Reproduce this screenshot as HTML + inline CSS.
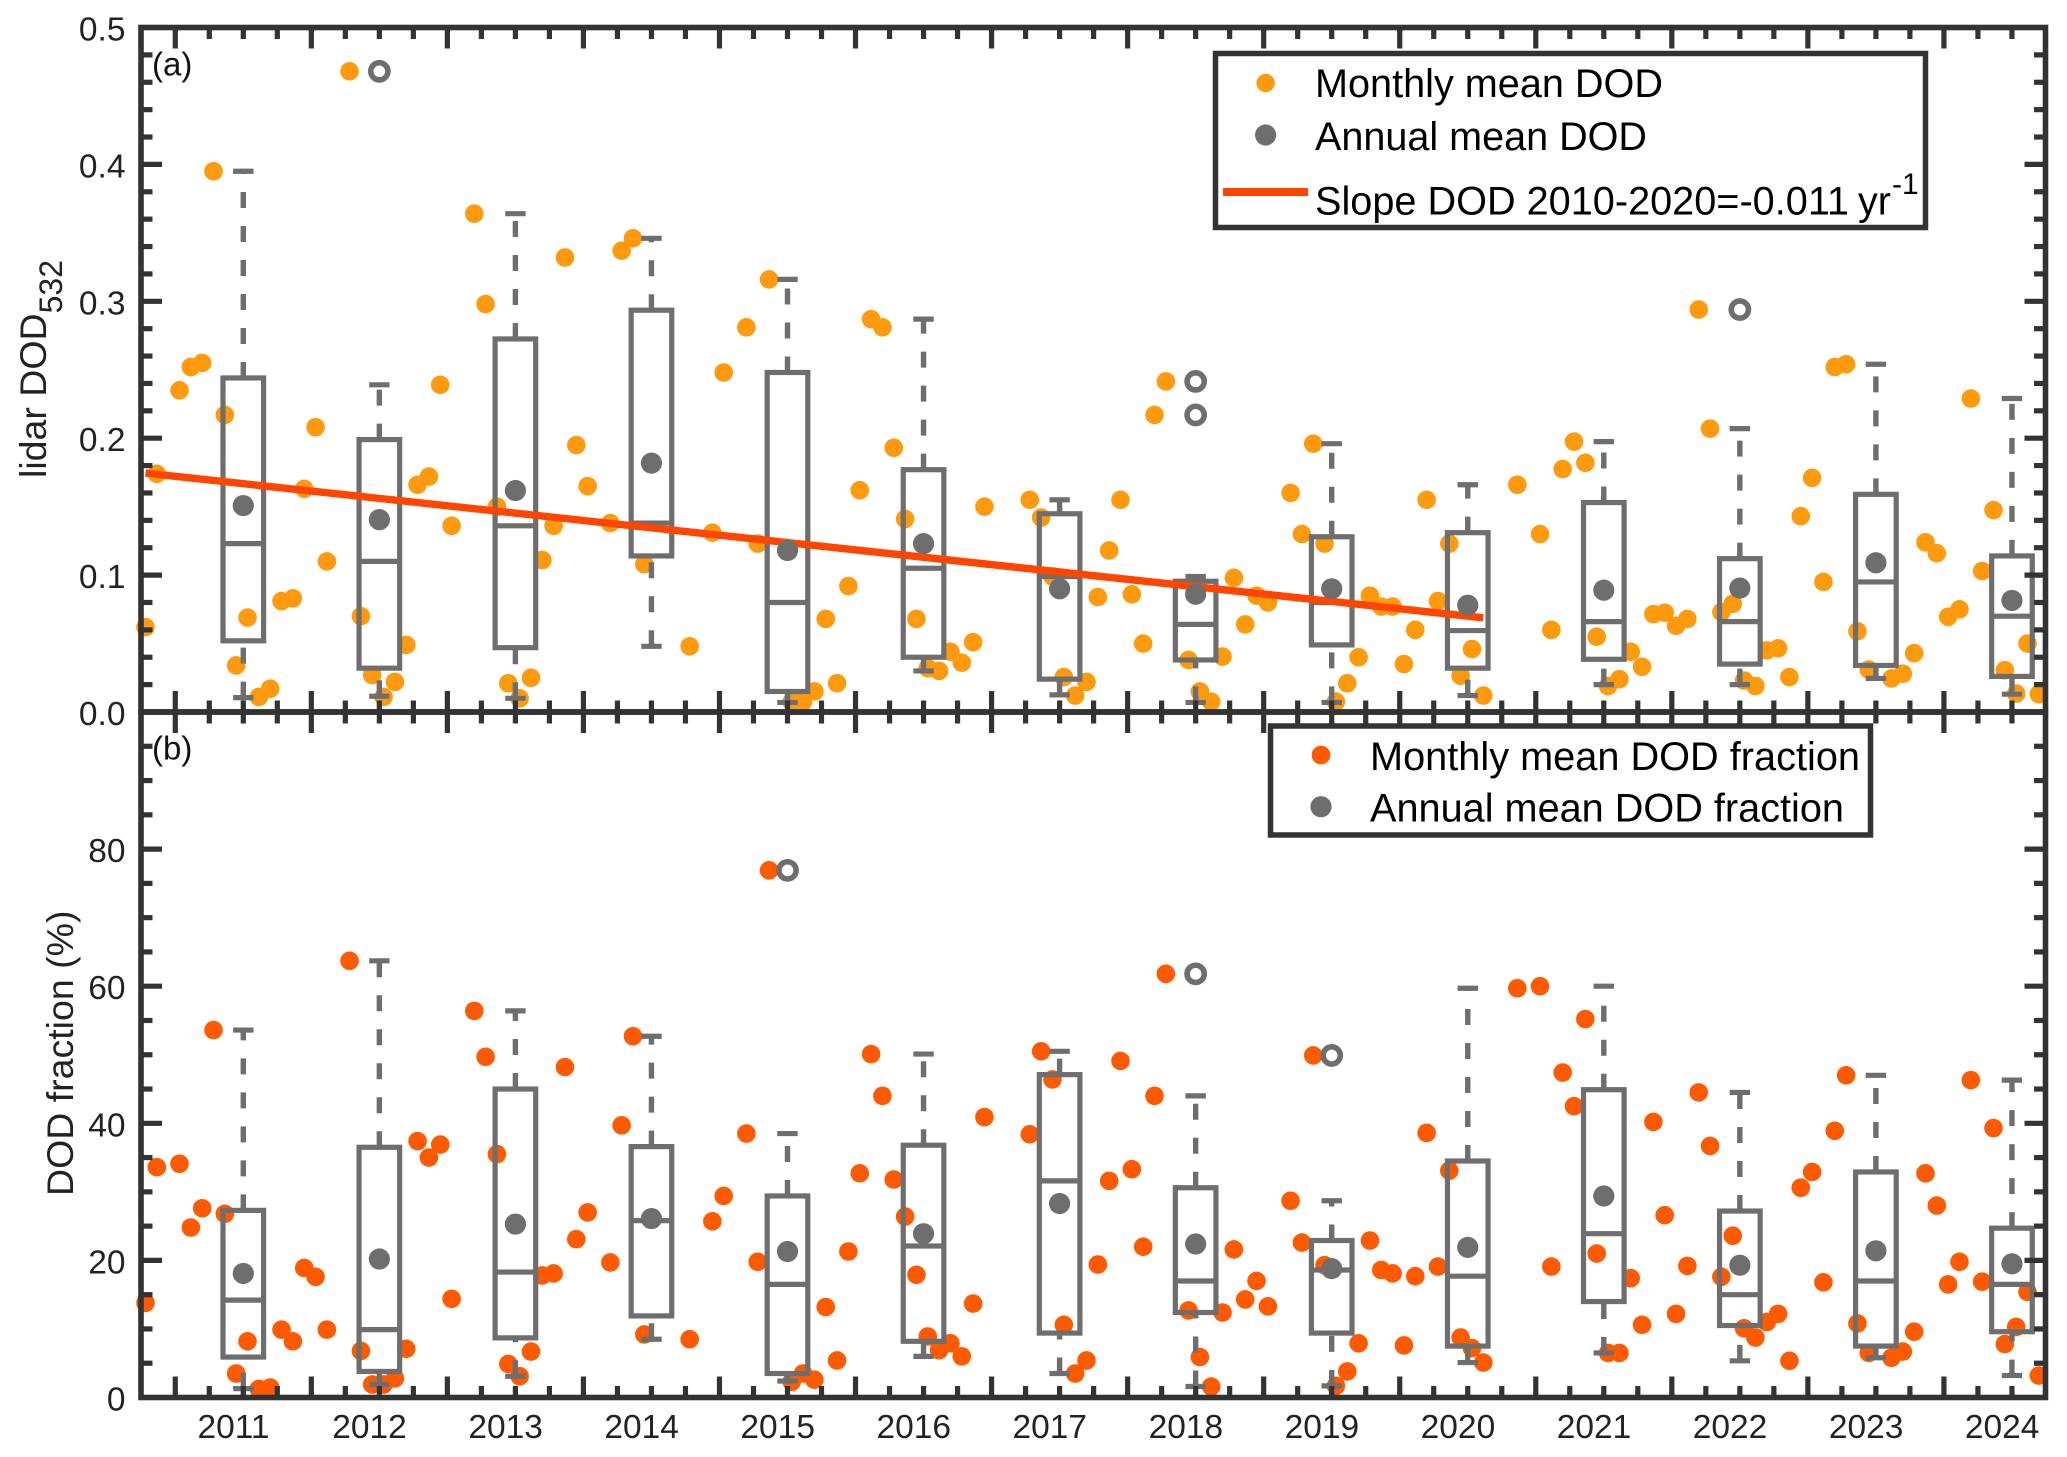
<!DOCTYPE html>
<html lang="en">
<head>
<meta charset="utf-8">
<title>Lidar DOD and DOD fraction</title>
<style>
html,body{margin:0;padding:0;background:#fff;}
svg{display:block;font-family:"Liberation Sans",Arial,sans-serif;}
</style>
</head>
<body>
<svg id="chart" xmlns="http://www.w3.org/2000/svg" width="2067" height="1457" viewBox="0 0 2067 1457">
  <rect x="0" y="0" width="2067" height="1457" fill="#fff"/>
  <g id="panelA"></g>
  <g id="panelB"></g>

  <text transform="translate(46,478) rotate(-90)" font-size="37.5" fill="#222">lidar DOD<tspan dy="16" font-size="32">532</tspan></text>
  <text transform="translate(73,1196) rotate(-90)" font-size="37.5" fill="#222">DOD fraction (%)</text>
  <text x="152" y="75.5" font-size="33" fill="#111">(a)</text>
  <text x="152" y="759.5" font-size="33" fill="#111">(b)</text>

  <g>
    <rect x="1215.5" y="53.5" width="710" height="174" fill="#fff" stroke="#333" stroke-width="5.5"/>
    <circle cx="1265.6" cy="83" r="9.2" fill="#FF9A0E"/>
    <text x="1315" y="97" font-size="39.5" textLength="348" lengthAdjust="spacingAndGlyphs" fill="#000">Monthly mean DOD</text>
    <circle cx="1265.6" cy="135" r="10.6" fill="#6E6E6E"/>
    <text x="1315" y="150" font-size="39.5" textLength="332" lengthAdjust="spacingAndGlyphs" fill="#000">Annual mean DOD</text>
    <line x1="1223" x2="1308" y1="192" y2="192" stroke="#FF4500" stroke-width="8"/>
    <text x="1315" y="214.5" font-size="39.5" textLength="534" lengthAdjust="spacingAndGlyphs" fill="#000">Slope DOD 2010-2020=-0.011</text>
    <text x="1858" y="214.5" font-size="39.5" fill="#000">yr</text>
    <text x="1892" y="194" font-size="30" fill="#000">-1</text>
  </g>

  <g>
    <rect x="1270.5" y="726" width="600" height="109" fill="#fff" stroke="#333" stroke-width="5.5"/>
    <circle cx="1321" cy="755" r="9.4" fill="#FF5A00"/>
    <text x="1370" y="770" font-size="39.5" textLength="490" lengthAdjust="spacingAndGlyphs" fill="#000">Monthly mean DOD fraction</text>
    <circle cx="1321" cy="806.7" r="10.6" fill="#6E6E6E"/>
    <text x="1370" y="821.5" font-size="39.5" textLength="474" lengthAdjust="spacingAndGlyphs" fill="#000">Annual mean DOD fraction</text>
  </g>
</svg>
<script>
const years = [2011,2012,2013,2014,2015,2016,2017,2018,2019,2020,2021,2022,2023,2024];
const dodTickLabels = ["0.0","0.1","0.2","0.3","0.4","0.5"];
const fractionTickLabels = ["0","20","40","60","80"];

const monthlyDod = [
.062,.174,null,.235,.252,.255,.395,.217,.034,.069,.011,.017,
.081,.083,.163,.208,.110,null,.468,.070,.027,.011,.022,.049,
.166,.172,.239,.136,null,.364,.298,.150,.021,.010,.025,.111,
.136,.332,.195,.165,null,.138,.337,.346,.108,null,null,null,
.048,null,.131,.248,null,.281,.123,.316,null,.0075,.0075,.015,
.068,.021,.092,.162,.287,.281,.193,.141,.068,.032,.030,.044,
.036,.051,.150,null,null,null,.155,.142,.099,.0255,.012,.022,
.084,.118,.155,.086,.050,.217,.2415,null,.038,.015,.0075,.0405,
.098,.064,.085,.080,null,.160,.130,.196,.123,.0075,.021,.040,
.085,.077,.077,.035,.060,.155,.081,.123,.0265,.046,.012,null,
null,.166,null,.130,.060,.1775,.1975,.182,.055,.019,.024,.044,
.033,.0715,.0725,.063,.068,.294,.207,.073,.079,.023,.019,.045,
.0465,.0255,.143,.171,.095,.252,.254,.059,.031,null,.0245,.028,
.043,.124,.116,.0695,.075,.229,.103,.1475,.0305,.0135,.050,.013
];
const monthlyFraction = [
13.8,33.6,null,34.1,24.8,27.6,53.6,26.8,3.5,8.2,1.25,1.45,
9.9,8.2,18.9,17.6,9.9,null,63.7,6.8,1.9,1.9,2.8,7.1,
37.4,35,36.9,14.4,null,56.4,49.7,35.5,4.9,3.1,6.7,17.8,
18.1,48.2,23.1,27,null,19.7,39.7,52.7,9.2,null,null,null,
8.5,null,25.7,29.4,null,38.5,19.8,76.9,null,2.3,3.5,2.6,
13.2,5.4,21.3,32.7,50.1,44,31.8,26.4,17.9,8.9,6.9,7.9,
6,13.7,40.9,null,null,null,38.4,50.5,46.4,10.6,3.5,5.4,
19.4,31.6,49.1,33.3,22,44,61.8,null,12.7,5.9,1.6,12.4,
21.6,14.3,17,13.3,null,28.7,22.6,49.9,19.3,1.7,3.8,7.9,
22.9,18.6,18.1,7.6,17.7,38.6,19.1,33.1,8.75,7.2,5.1,null,
null,59.7,null,60,19.1,47.4,42.5,55.2,21,6.5,6.5,17.4,
10.6,40.2,26.6,12.2,19.2,44.5,36.7,17.6,23.6,10.1,8.75,11,
12.2,5.35,30.6,32.9,16.8,38.9,47,10.8,6.5,null,5.8,6.7,
9.6,32.7,28,16.5,19.8,46.3,16.9,39.3,7.8,10.3,15.4,3.2
];

const dodWhiskerHigh = [.395,.239,.364,.346,.316,.287,.155,.099,.196,.166,.1975,.207,.254,.229];
const dodQ3 = [.244,.199,.2725,.2935,.248,.177,.1448,.0955,.128,.131,.153,.112,.159,.114];
const dodMedian = [.123,.110,.136,.138,.080,.105,.099,.064,.080,.0595,.066,.066,.095,.070];
const dodQ1 = [.052,.032,.047,.114,.015,.040,.024,.038,.049,.032,.0385,.035,.034,.026];
const dodWhiskerLow = [.0105,.0115,.010,.048,.007,.030,.0125,.007,.007,.012,.020,.020,.0245,.013];
const dodAnnualMean = [.1508,.1405,.1618,.1818,.118,.123,.090,.086,.090,.078,.089,.0905,.109,.0815];
const dodOutlierYears = [2012,2018,2018,2022];
const dodOutlierValues = [.468,.2415,.217,.294];

const fractionWhiskerHigh = [53.6,63.7,56.4,52.7,38.5,50.1,50.5,44,28.7,59.7,60,44.5,47,46.3];
const fractionQ3 = [27.3,36.5,45,36.6,29.4,36.8,47.1,30.6,22.9,34.5,44.9,27.2,32.9,24.7];
const fractionMedian = [14.2,9.9,18.3,25.8,16.5,22.1,31.6,17,18.6,17.7,23.9,15,17,16.5];
const fractionQ1 = [5.9,3.8,8.7,11.9,3.5,8.2,9.4,12.4,9.4,7.5,14,10.5,7.5,9.6];
const fractionWhiskerLow = [1.3,1.9,3.1,8.5,2.4,6,3.5,1.6,1.7,5.1,6.5,5.35,5.8,3.2];
const fractionAnnualMean = [18.1,20.2,25.3,26.1,21.3,23.9,28.3,22.4,18.8,21.9,29.4,19.3,21.4,19.5];
const fractionOutlierYears = [2015,2018,2019];
const fractionOutlierValues = [76.9,61.8,49.9];

const trendMonthIndex = [0,118];
const trendValues = [.1745,.0688];

const SVG_NS = "http://www.w3.org/2000/svg";
const AXIS = "#333333", GRAY = "#6E6E6E";
const xLeft = 141, xRight = 2045.5;
function xScale(t){ return 243.3 + (t - 2011) * 136.05; }
function monthTime(i){ return 2010.281 + i / 12; }
function yScaleA(v){ return 712 - v * 1369; }
function yScaleB(v){ return 1397.5 - v * 6.855; }

function make(parent, tag, attrs, text){
  const n = document.createElementNS(SVG_NS, tag);
  for (const k in attrs) n.setAttribute(k, attrs[k]);
  if (text !== undefined) n.textContent = text;
  parent.appendChild(n);
  return n;
}

function drawBoxes(g, y, hi, q3, med, q1, lo){
  years.forEach(function(yr, k){
    const cx = xScale(yr);
    const box = make(g, "g", {});
    
    
    const stroke = {stroke: GRAY, "stroke-width": 5.2, fill: "none"};
    const up = make(box, "line", Object.assign({x1: cx, x2: cx, y1: y(q3[k]), y2: y(hi[k]), "stroke-dasharray": "16 18"}, stroke, {"stroke-width": 5.4}));
    
    
    const down = make(box, "line", Object.assign({x1: cx, x2: cx, y1: y(lo[k]), y2: y(q1[k]), "stroke-dasharray": "16 18"}, stroke, {"stroke-width": 5.4}));
    
    
    const capHi = make(box, "line", Object.assign({x1: cx - 10.2, x2: cx + 10.2, y1: y(hi[k]), y2: y(hi[k])}, stroke));
    
    
    const capLo = make(box, "line", Object.assign({x1: cx - 10.2, x2: cx + 10.2, y1: y(lo[k]), y2: y(lo[k])}, stroke));
    
    
    const rect = make(box, "rect", Object.assign({x: cx - 20.3, width: 40.6, y: y(q3[k]), height: y(q1[k]) - y(q3[k])}, stroke));
    
    
    const m = make(box, "line", Object.assign({x1: cx - 20.3, x2: cx + 20.3, y1: y(med[k]), y2: y(med[k])}, stroke));
    
    
  });
}

function drawMonthly(g, y, values, color){
  values.forEach(function(v, i){
    if (v === null) return;
    const c = make(g, "circle", {cx: xScale(monthTime(i)), cy: y(v), r: 9.3, fill: color});
    
    
  });
}

function drawMeans(g, y, means){
  means.forEach(function(v, k){
    const c = make(g, "circle", {cx: xScale(years[k]), cy: y(v), r: 10.6, fill: GRAY});
    
    
  });
}

function drawOutliers(g, y, outYears, outValues){
  outValues.forEach(function(v, k){
    const c = make(g, "circle", {cx: xScale(outYears[k]), cy: y(v), r: 8.6, fill: "#fff", stroke: GRAY, "stroke-width": 5.6});
    
    
  });
}

function drawAxes(g, yTop, yBottom, y, majorStep, minorStep, labels, maxV, showXLabels){
  const ax = make(g, "g", {stroke: AXIS, "stroke-width": 5.2, fill: "none"});
  
  
  const nMinor = Math.round(maxV / minorStep);
  const every = Math.round(majorStep / minorStep);
  for (let i = 1; i < nMinor; i++){
    const v = i * minorStep;
    const len = i % every === 0 ? 21 : 11.5;
    make(ax, "line", {x1: xLeft, x2: xLeft + len, y1: y(v), y2: y(v)});
    make(ax, "line", {x1: xRight, x2: xRight - len, y1: y(v), y2: y(v)});
  }
  for (let q = 0; q <= 55; q++){
    const t = 2010.5 + q * 0.25;
    const px = xScale(t);
    if (px >= xRight - 2) break;
    const len = q % 4 === 0 ? 21 : 11.5;
    make(ax, "line", {x1: px, x2: px, y1: yBottom, y2: yBottom - len});
    make(ax, "line", {x1: px, x2: px, y1: yTop, y2: yTop + len});
  }
  const frame = make(g, "rect", {x: xLeft, y: yTop, width: xRight - xLeft, height: yBottom - yTop, fill: "none", stroke: AXIS, "stroke-width": 5.6});
  
  
  labels.forEach(function(lab){
    const t = make(g, "text", {x: 125.5, y: y(parseFloat(lab)) + 13, "text-anchor": "end", "font-size": 33.5, fill: "#222"}, lab);
    
    
  });
  if (showXLabels){
    years.forEach(function(yr){
      const t = make(g, "text", {x: xScale(yr) - 9.8, y: 1438, "text-anchor": "middle", "font-size": 33.5, fill: "#222"}, String(yr));
      
      
    });
  }
}

const gA = document.getElementById("panelA");
const gB = document.getElementById("panelB");

drawMonthly(gA, yScaleA, monthlyDod, "#FF9A0E");
drawBoxes(gA, yScaleA, dodWhiskerHigh, dodQ3, dodMedian, dodQ1, dodWhiskerLow);
drawOutliers(gA, yScaleA, dodOutlierYears, dodOutlierValues);
const trend = make(gA, "line", {
  x1: xScale(monthTime(trendMonthIndex[0])), y1: yScaleA(trendValues[0]),
  x2: xScale(monthTime(trendMonthIndex[1])), y2: yScaleA(trendValues[1]),
  stroke: "#FF4500", "stroke-width": 7.4
});


drawMeans(gA, yScaleA, dodAnnualMean);
drawAxes(gA, 27.5, 712, yScaleA, 0.1, 0.02, dodTickLabels, 0.5, false);

drawMonthly(gB, yScaleB, monthlyFraction, "#FF5A00");
drawBoxes(gB, yScaleB, fractionWhiskerHigh, fractionQ3, fractionMedian, fractionQ1, fractionWhiskerLow);
drawOutliers(gB, yScaleB, fractionOutlierYears, fractionOutlierValues);
drawMeans(gB, yScaleB, fractionAnnualMean);
drawAxes(gB, 712, 1397.5, yScaleB, 20, 5, fractionTickLabels, 100, true);
</script>
</body>
</html>
